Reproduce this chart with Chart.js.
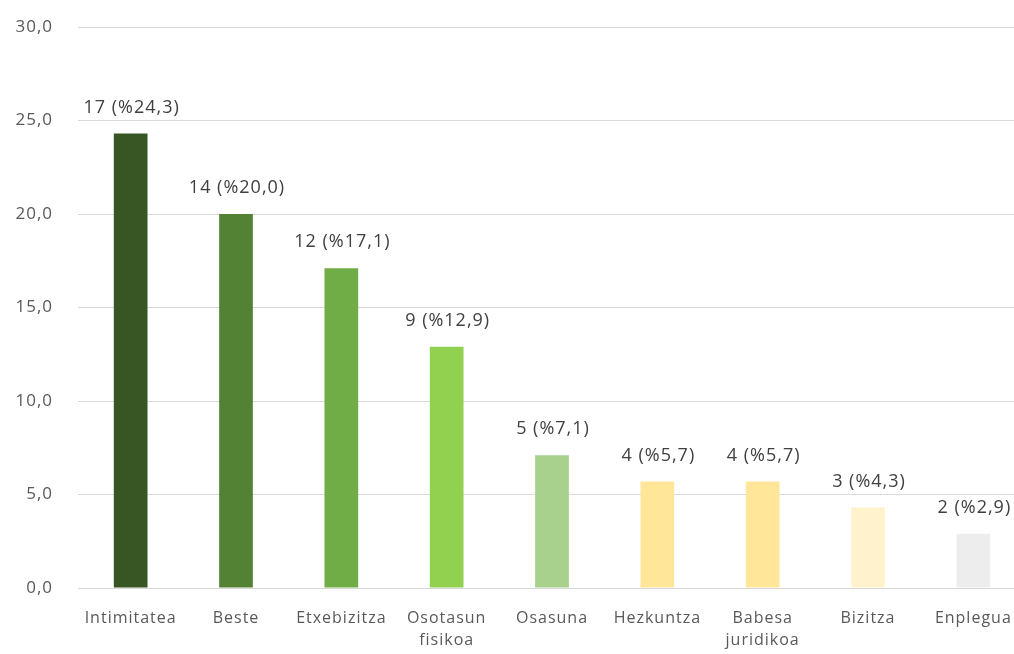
<!DOCTYPE html>
<html>
<head>
<meta charset="utf-8">
<script src="https://cdn.jsdelivr.net/npm/chart.js@4"></script>
<style>
  html, body { margin: 0; padding: 0; background: #fff; overflow: hidden; }
  #wrap { width: 1026px; height: 654px; }
</style>
</head>
<body>
<div id="wrap"><canvas id="chart"></canvas></div>
<script>
const categories = ['Intimitatea', 'Beste', 'Etxebizitza', ['Osotasun', 'fisikoa'], 'Osasuna', 'Hezkuntza', ['Babesa', 'juridikoa'], 'Bizitza', 'Enplegua'];
const counts = [17, 14, 12, 9, 5, 4, 4, 3, 2];
const percents = [24.3, 20.0, 17.1, 12.9, 7.1, 5.7, 5.7, 4.3, 2.9];
const barColors = ['#375623', '#548235', '#70AD47', '#92D050', '#A9D18E', '#FFE699', '#FFE699', '#FFF2CC', '#EDEDED'];
const yTicks = [0, 5, 10, 15, 20, 25, 30];

const fmt = v => v.toFixed(1).replace('.', ',');

// slightly wider text, like the scanned original
const spacing = {
    id: 'spacing',
    beforeLayout(chart) { chart.ctx.letterSpacing = '1px'; },
    beforeDraw(chart) { chart.ctx.letterSpacing = '1px'; }
};

const valueLabels = {
    id: 'valueLabels',
    afterDatasetsDraw(chart) {
        const ctx = chart.ctx;
        const meta = chart.getDatasetMeta(0);
        ctx.save();
        ctx.letterSpacing = '1px';
        ctx.font = '18px "Open Sans", sans-serif';
        ctx.fillStyle = '#404040';
        ctx.textAlign = 'center';
        ctx.textBaseline = 'middle';
        meta.data.forEach(function (bar, i) {
            ctx.fillText(counts[i] + ' (%' + fmt(percents[i]) + ')', bar.x + 1, bar.y - 26);
        });
        ctx.restore();
    }
};

document.addEventListener('DOMContentLoaded', function () {
    const ctx = document.getElementById('chart').getContext('2d');
    new Chart(ctx, {
        type: 'bar',
        data: {
            labels: categories,
            datasets: [{
                data: percents,
                backgroundColor: barColors,
                barPercentage: 0.64,
                categoryPercentage: 0.5
            }]
        },
        options: {
            responsive: true,
            maintainAspectRatio: false,
            animation: false,
            layout: { padding: { top: 27, left: 0, right: 0, bottom: 0 } },
            plugins: { legend: { display: false }, tooltip: { enabled: false } },
            scales: {
                x: {
                    grid: { display: false, drawTicks: false },
                    border: { display: false },
                    ticks: { color: '#595959', font: { family: 'Open Sans', size: 16, lineHeight: 1.4 }, padding: 19, maxRotation: 0, autoSkip: false },
                    afterFit: function (s) { s.height = 66; s.paddingLeft = 0; s.paddingRight = 0; }
                },
                y: {
                    min: 0,
                    max: 30,
                    afterBuildTicks: function (s) { s.ticks = yTicks.map(v => ({ value: v })); },
                    grid: { color: '#D9D9D9', lineWidth: 1, drawTicks: false },
                    border: { display: false },
                    ticks: { color: '#595959', font: { family: 'Open Sans', size: 17 }, padding: 25, callback: v => fmt(v) },
                    afterFit: function (s) { s.width = 78; s.paddingTop = 0; s.paddingBottom = 0; }
                }
            }
        },
        plugins: [spacing, valueLabels]
    });
});
</script>
</body>
</html>
